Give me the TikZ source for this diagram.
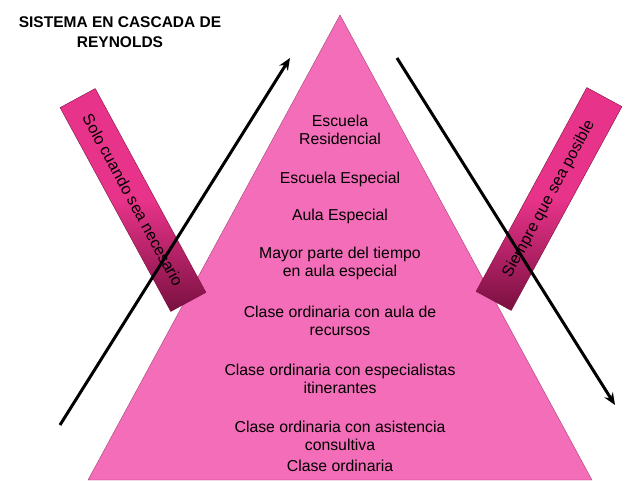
\documentclass[tikz,border=0pt]{standalone}
\usepackage{fontspec}
\setmainfont{Liberation Sans}
\usetikzlibrary{arrows.meta}
\definecolor{bpink}{HTML}{E8338A}
\definecolor{bdark}{HTML}{7A1040}
\definecolor{tpink}{HTML}{F46DB8}
\begin{document}
\begin{tikzpicture}[x=1pt,y=-1pt,
  lbl/.style={font=\fontsize{15.8}{18}\selectfont,align=center,text=black},
  banner/.style={draw=bdark,minimum width=232pt,minimum height=40pt,
    font=\fontsize{16}{18}\selectfont},
  arr/.style={line width=3pt,-{Stealth[length=12pt,width=10pt]}}]
\useasboundingbox (0,0) rectangle (640,480);
\node[lbl,font=\bfseries\fontsize{15.5}{20}\selectfont] (title) at (120,32) {SISTEMA EN CASCADA DE\\REYNOLDS};
\path[fill=tpink,draw=magenta!60!black] (340,15) coordinate (apex) -- (88,480) coordinate (bl) -- (592,480) coordinate (br) -- cycle;
\node[lbl] (n1) at (340,130) {Escuela\\Residencial};
\node[lbl] (n2) at (340,179) {Escuela Especial};
\node[lbl] (n3) at (340,216) {Aula Especial};
\node[lbl] (n4) at (340,263) {Mayor parte del tiempo\\en aula especial};
\node[lbl] (n5) at (340,321) {Clase ordinaria con aula de\\recursos};
\node[lbl] (n6) at (340,379) {Clase ordinaria con especialistas\\itinerantes};
\node[lbl] (n7) at (340,436) {Clase ordinaria con asistencia\\consultiva};
\node[lbl] (n8) at (340,466) {Clase ordinaria};
\node[banner,rotate=-61.5,top color=bpink,bottom color=bdark,middle color=bpink] (lb) at (133,200) {Solo cuando sea necesario};
\node[banner,rotate=61.5,top color=bpink,bottom color=bdark,middle color=bpink] (rb) at (549,199) {Siempre que sea posible};
\coordinate (a1s) at (60,425); \coordinate (a1e) at (290,58);
\coordinate (a2s) at (397,58); \coordinate (a2e) at (615,405);
\draw[arr] (a1s) -- (a1e);
\draw[arr] (a2s) -- (a2e);
\end{tikzpicture}
\end{document}
